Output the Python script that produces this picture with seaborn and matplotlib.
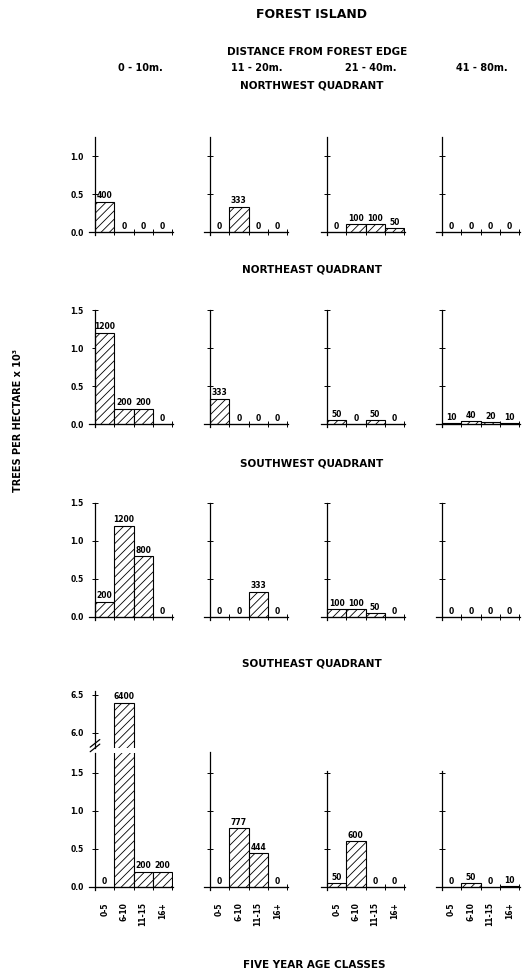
import numpy as np
import matplotlib
matplotlib.use('Agg')
import matplotlib.pyplot as plt
import seaborn as sns

# Daten (Baeume pro Hektar)
age_classes = ['0-5', '6-10', '11-15', '16+']
distances = ['0 - 10m.', '11 - 20m.', '21 - 40m.', '41 - 80m.']
quadrants = ['NORTHWEST QUADRANT', 'NORTHEAST QUADRANT', 'SOUTHWEST QUADRANT', 'SOUTHEAST QUADRANT']

northwest = [[400, 0, 0, 0], [0, 333, 0, 0], [0, 100, 100, 50], [0, 0, 0, 0]]
northeast = [[1200, 200, 200, 0], [333, 0, 0, 0], [50, 0, 50, 0], [10, 40, 20, 10]]
southwest = [[200, 1200, 800, 0], [0, 0, 333, 0], [100, 100, 50, 0], [0, 0, 0, 0]]
southeast = [[0, 6400, 200, 200], [0, 777, 444, 0], [50, 600, 0, 0], [0, 50, 0, 10]]
rows_data = [northwest, northeast, southwest, southeast]

sns.set_style('ticks')
plt.rcParams['font.family'] = ['DejaVu Sans']
plt.rcParams['font.weight'] = 'bold'
plt.rcParams['hatch.linewidth'] = 0.6
plt.rcParams['hatch.color'] = 'black'
for key in ['text.color', 'axes.labelcolor', 'xtick.color', 'ytick.color', 'axes.edgecolor']:
    plt.rcParams[key] = 'black'

W, H = 530, 977
fig = plt.figure(figsize=(W / 100, H / 100), dpi=100)

PX_PER_UNIT = 76.0      # Pixel pro 1.0 auf der y-Achse
X_PX_PER_UNIT = 19.25   # Pixel pro Balken
XMIN, XMAX = -0.8, 3.55
YMIN = -0.04
col_spine_px = [95, 210, 327, 442]
row_base_px = [232, 424, 617, 887]
row_tops = [[1.25] * 4, [1.5] * 4, [1.5] * 4, [1.76, 1.78, 1.52, 1.52]]


def make_axes(left_px, base_px, ymin, ymax):
    # Achsen so anlegen, dass y=0 bei base_px liegt
    ax_left = left_px - (-0.5 - XMIN) * X_PX_PER_UNIT
    width = (XMAX - XMIN) * X_PX_PER_UNIT
    bottom = base_px + (0 - ymin) * PX_PER_UNIT
    height = (ymax - ymin) * PX_PER_UNIT
    return fig.add_axes([ax_left / W, 1 - bottom / H, width / W, height / H])


def style_axes(ax, ylim, yticks, left_labels, bottom_labels, show_bottom=True):
    ax.set_xlim(XMIN, XMAX)
    ax.set_ylim(*ylim)
    ax.spines['left'].set_position(('data', -0.5))
    ax.spines['right'].set_visible(False)
    ax.spines['top'].set_visible(False)
    for s in ['left', 'bottom']:
        ax.spines[s].set_linewidth(0.9)
    if show_bottom:
        ax.spines['bottom'].set_position(('data', 0))
        ax.set_xticks([-0.5, 0.5, 1.5, 2.5, 3.5])
        ax.set_xticklabels([])
        ax.set_xticks(range(4), minor=True)
        ax.set_xticklabels(age_classes if bottom_labels else [], minor=True,
                           rotation=90, fontsize=5.5, fontweight='bold', va='top')
        ax.tick_params(axis='x', which='major', direction='inout', length=4, width=0.7)
        ax.tick_params(axis='x', which='minor', length=0, pad=11)
    else:
        ax.spines['bottom'].set_visible(False)
        ax.set_xticks([])
    ax.set_yticks(yticks)
    ax.set_yticklabels([f'{t:.1f}' for t in yticks] if left_labels else [],
                       fontsize=5.5, fontweight='bold')
    ax.tick_params(axis='y', direction='inout', length=4, width=0.7, pad=6)
    ax.set_xlabel('')
    ax.set_ylabel('')


def bars(ax, vals, labels):
    sns.barplot(x=age_classes, y=np.array(vals) / 1000.0, ax=ax, width=1,
                color='white', edgecolor='black', linewidth=0.8, hatch='////',
                saturation=1, clip_on=True)
    ax.bar_label(ax.containers[0], labels=labels, padding=1, fontsize=5.5,
                 fontweight='bold')


for r, row in enumerate(rows_data):
    for c, vals in enumerate(row):
        ytop = row_tops[r][c]
        yticks = [0.0, 0.5, 1.0] if r == 0 else [0.0, 0.5, 1.0, 1.5]
        labels = [str(v) for v in vals]
        if r == 3 and c == 0:
            # unterbrochene Achse fuer den 6400-Balken
            ax_up = make_axes(col_spine_px[c], 733 + 6.0 * PX_PER_UNIT, 5.8, 6.55)
            bars(ax_up, vals, ['' if v < 5000 else str(v) for v in vals])
            style_axes(ax_up, (5.8, 6.55), [6.0, 6.5], True, False, show_bottom=False)
            ax = make_axes(col_spine_px[c], row_base_px[r], YMIN, ytop)
            bars(ax, vals, ['' if v > 5000 else str(v) for v in vals])
            style_axes(ax, (YMIN, ytop), yticks, True, True)
            ax.plot([-0.75, -0.25], [ytop + 0.02, ytop + 0.12], color='black', lw=0.9,
                    clip_on=False)
            ax.plot([-0.75, -0.25], [ytop + 0.08, ytop + 0.18], color='black', lw=0.9,
                    clip_on=False)
        else:
            ax = make_axes(col_spine_px[c], row_base_px[r], YMIN, ytop)
            bars(ax, vals, labels)
            style_axes(ax, (YMIN, ytop), yticks, c == 0, r == 3)

# Texte
fig.text(312 / W, 1 - 15 / H, 'FOREST ISLAND', ha='center', va='center', fontsize=9, fontweight='heavy')
fig.text(317 / W, 1 - 52 / H, 'DISTANCE FROM FOREST EDGE', ha='center', va='center', fontsize=7.5, fontweight='heavy')
for x_px, txt in zip([140, 257, 371, 482], distances):
    fig.text(x_px / W, 1 - 68 / H, txt, ha='center', va='center', fontsize=7, fontweight='heavy')
for y_px, txt in zip([85, 270, 463, 663], quadrants):
    fig.text(312 / W, 1 - y_px / H, txt, ha='center', va='center', fontsize=7.5, fontweight='heavy')
fig.text(314 / W, 1 - 965 / H, 'FIVE YEAR AGE CLASSES', ha='center', va='center', fontsize=7.5, fontweight='heavy')
fig.text(18 / W, 1 - 420 / H, 'TREES PER HECTARE x 10³', ha='center', va='center',
         rotation=90, fontsize=7, fontweight='heavy')

fig.savefig('out.png', dpi=100)
